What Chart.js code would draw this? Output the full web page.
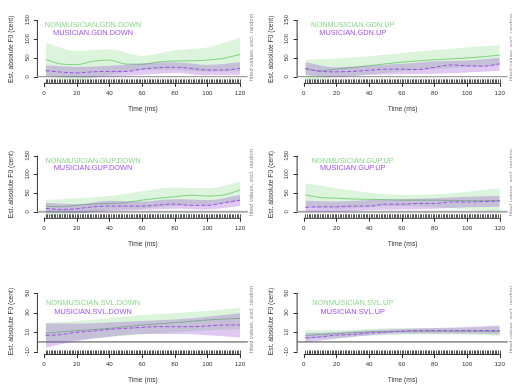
<!DOCTYPE html>
<html>
<head>
<meta charset="utf-8">
<script src="https://cdn.jsdelivr.net/npm/chart.js@4.4.1/dist/chart.umd.min.js"></script>
<style>
  html, body { margin: 0; padding: 0; background: #fff; width: 512px; height: 388px; overflow: hidden; }
  .panel { position: absolute; width: 256px; height: 136px; }
</style>
</head>
<body>
<div class="panel" style="left:0;top:0"><canvas id="p0" width="256" height="136"></canvas></div>
<div class="panel" style="left:256px;top:0"><canvas id="p1" width="256" height="136"></canvas></div>
<div class="panel" style="left:0;top:136px"><canvas id="p2" width="256" height="136"></canvas></div>
<div class="panel" style="left:256px;top:136px"><canvas id="p3" width="256" height="136"></canvas></div>
<div class="panel" style="left:0;top:272px"><canvas id="p4" width="256" height="136"></canvas></div>
<div class="panel" style="left:256px;top:272px"><canvas id="p5" width="256" height="136"></canvas></div>
<script>
// time points (ms)
const LINE_T = [1, 10, 20, 30, 40, 50, 60, 70, 80, 90, 100, 110, 120];
const BAND_T = [1, 20, 40, 60, 80, 100, 120];
const X_TICKS = [0, 20, 40, 60, 80, 100, 120];
const Y_TICKS_F0 = [0, 50, 100, 150];
const Y_TICKS_SVL = [-10, 10, 30, 50];
const RUG_T = Array.from({ length: 120 }, (_, i) => i + 1); // one sample per ms

// GDN.DOWN
const gdnDownNonFit = [46, 34, 32, 41, 44, 33.6, 33, 39, 41.5, 42, 44, 48.6, 59];
const gdnDownNonHi = [90, 68, 72.5, 55, 70, 77, 103];
const gdnDownNonLo = [0, -9, 4.5, 17.7, 17.7, 13, 15];
const gdnDownMusFit = [16, 12.4, 10, 13, 14, 14, 20, 24, 25, 22, 17.7, 17.7, 22];
const gdnDownMusHi = [30, 26, 29, 35, 38, 31, 38];
const gdnDownMusLo = [2, -2, 0, 5, 10, 4, 5];
// GDN.UP
const gdnUpNonFit = [20, 15.6, 20, 24.5, 29, 34, 38.5, 42, 45, 47, 49.5, 53, 57];
const gdnUpNonHi = [45, 48, 54, 63, 70.6, 77, 84];
const gdnUpNonLo = [-12, -1, 6, 14, 20, 25, 29];
const gdnUpMusFit = [22, 14, 13, 14, 17, 20, 20, 19, 25, 31, 29, 28, 34];
const gdnUpMusHi = [38.5, 25, 29, 34, 41, 43, 50];
const gdnUpMusLo = [4.6, -1, 4.6, 6.4, 8, 11, 15.6];
// GUP.DOWN
const gupDownNonFit = [15, 13, 17, 20.5, 22, 24, 31, 36, 40, 44, 42, 45, 58];
const gupDownNonHi = [31, 36, 42, 55, 65, 62.5, 80];
const gupDownNonLo = [-12, -6, 4.5, 8, 15, 18, 27];
const gupDownMusFit = [9, 6, 8, 13, 15, 15, 15, 18, 20.5, 17, 17, 24, 31];
const gupDownMusHi = [24, 20, 29.5, 27, 33, 31, 45];
const gupDownMusLo = [-3, -4, 2, 4.5, 8, 6, 15];
// GUP.UP
const gupUpNonFit = [45, 38, 36, 34, 33, 32, 31, 31, 31, 30, 29.5, 29.5, 29.5];
const gupUpNonHi = [76, 62.5, 51, 45, 47, 53.6, 62.5];
const gupUpNonLo = [13, 7, 11.6, 15, 11.6, 6, 0];
const gupUpMusFit = [11.6, 13, 13, 15, 15, 20, 20, 22, 22, 26, 26, 27, 28.6];
const gupUpMusHi = [29.5, 27, 31, 33, 36, 40, 42];
const gupUpMusLo = [0, 0, 4.5, 6, 8, 11.6, 13];
// SVL.DOWN
const svlDownNonFit = [8.9, 10.2, 11.6, 12.8, 14, 15.7, 17.4, 18.6, 19.8, 21.2, 22.6, 23.5, 24.3];
const svlDownNonHi = [19.8, 21.5, 24.3, 27.7, 29.4, 32, 35.3];
const svlDownNonLo = [-2, 2, 5, 8, 10, 12, 13];
const svlDownMusFit = [6.8, 7.5, 9.9, 11.2, 13, 14, 15, 15.7, 15.7, 15.7, 16.4, 17.4, 17.4];
const svlDownMusHi = [19, 19, 20, 21.5, 23, 26, 29.4];
const svlDownMusLo = [-6, 1, 5.4, 8.2, 8.2, 7, 4.7];
// SVL.UP
const svlUpNonFit = [6.6, 7.6, 8.6, 9.5, 10.3, 10.7, 11, 11, 11, 11, 11, 10.8, 10.7];
const svlUpNonHi = [12, 12, 13.4, 14.4, 14.4, 14.7, 16];
const svlUpNonLo = [2.5, 4.2, 6.6, 7.3, 7.6, 7.3, 6];
const svlUpMusFit = [4.2, 5.2, 7, 7.6, 9.3, 10, 11, 11.7, 11.7, 11.7, 11.7, 11.7, 11.7];
const svlUpMusHi = [9.3, 10, 12, 13.4, 14.4, 15.4, 16.8];
const svlUpMusLo = [-0.2, 3.2, 6.6, 8.6, 8.6, 8.6, 7.6];

const GREEN_LINE = '#80cf80', GREEN_BAND = 'rgba(60,190,60,0.18)', GREEN_TEXT = '#8ad88a';
const PURPLE_LINE = '#9a4fe0', PURPLE_BAND = 'rgba(140,60,210,0.28)', PURPLE_TEXT = '#a052e8';
const FONT = '"Liberation Sans", Arial, sans-serif';

const panels = [
  { id: 'p0', col: 0, row: 0, cond: 'GDN.DOWN', non: [gdnDownNonFit, gdnDownNonLo, gdnDownNonHi], mus: [gdnDownMusFit, gdnDownMusLo, gdnDownMusHi] },
  { id: 'p1', col: 1, row: 0, cond: 'GDN.UP', non: [gdnUpNonFit, gdnUpNonLo, gdnUpNonHi], mus: [gdnUpMusFit, gdnUpMusLo, gdnUpMusHi] },
  { id: 'p2', col: 0, row: 1, cond: 'GUP.DOWN', non: [gupDownNonFit, gupDownNonLo, gupDownNonHi], mus: [gupDownMusFit, gupDownMusLo, gupDownMusHi] },
  { id: 'p3', col: 1, row: 1, cond: 'GUP.UP', non: [gupUpNonFit, gupUpNonLo, gupUpNonHi], mus: [gupUpMusFit, gupUpMusLo, gupUpMusHi] },
  { id: 'p4', col: 0, row: 2, cond: 'SVL.DOWN', non: [svlDownNonFit, svlDownNonLo, svlDownNonHi], mus: [svlDownMusFit, svlDownMusLo, svlDownMusHi] },
  { id: 'p5', col: 1, row: 2, cond: 'SVL.UP', non: [svlUpNonFit, svlUpNonLo, svlUpNonHi], mus: [svlUpMusFit, svlUpMusLo, svlUpMusHi] }
];

// plot region placement (R-like margins)
const colPad = [{ left: 37.9, right: 8.2 }, { left: 41.6, right: 4.5 }];
const rowPad = [{ top: 17.6, bottom: 53.1 }, { top: 17.3, bottom: 54.2 }, { top: 19, bottom: 54 }];
const rowY = [
  { min: -16.4, max: 156.4, ticks: Y_TICKS_F0, legend: [137, 117], zero: '#888', zeroW: 1 },
  { min: -16.4, max: 156.4, ticks: Y_TICKS_F0, legend: [137, 117], zero: '#aaa', zeroW: 2 },
  { min: -12.4, max: 52.4, ticks: Y_TICKS_SVL, legend: [39.7, 31], zero: '#444', zeroW: 1 }
];

const pts = (xs, ys) => xs.map((x, i) => ({ x, y: ys[i] }));

function rot(ctx, text, x, y, a) {
  ctx.save(); ctx.translate(x, y); ctx.rotate(a); ctx.fillText(text, 0, 0); ctx.restore();
}

const rAxes = {
  id: 'rAxes',
  afterDraw(chart) {
    const { ctx, chartArea: ca, scales: { x, y } } = chart;
    const p = chart.options.plugins.rAxes;
    ctx.save();
    // rug
    ctx.strokeStyle = '#555'; ctx.lineWidth = 1;
    ctx.beginPath();
    RUG_T.forEach(t => { const px = Math.round(x.getPixelForValue(t)) + 0.5; ctx.moveTo(px, ca.bottom); ctx.lineTo(px, ca.bottom - 3.5); });
    ctx.stroke();
    // x axis
    ctx.strokeStyle = '#333'; ctx.lineWidth = 1;
    ctx.beginPath();
    ctx.moveTo(x.getPixelForValue(X_TICKS[0]), ca.bottom + 0.5);
    ctx.lineTo(x.getPixelForValue(X_TICKS[X_TICKS.length - 1]), ca.bottom + 0.5);
    X_TICKS.forEach(t => { const px = Math.round(x.getPixelForValue(t)) + 0.5; ctx.moveTo(px, ca.bottom); ctx.lineTo(px, ca.bottom + 4); });
    // y axis
    const yt = p.yTicks;
    ctx.moveTo(ca.left - 0.5, y.getPixelForValue(yt[0]));
    ctx.lineTo(ca.left - 0.5, y.getPixelForValue(yt[yt.length - 1]));
    yt.forEach(v => { const py = Math.round(y.getPixelForValue(v)) + 0.5; ctx.moveTo(ca.left, py); ctx.lineTo(ca.left - 4, py); });
    ctx.stroke();
    // tick labels
    ctx.fillStyle = '#333'; ctx.font = '6.2px ' + FONT;
    ctx.textAlign = 'center'; ctx.textBaseline = 'middle';
    X_TICKS.forEach(t => ctx.fillText(String(t), x.getPixelForValue(t), ca.bottom + 10));
    yt.forEach(v => rot(ctx, String(v), ca.left - 11, y.getPixelForValue(v), -Math.PI / 2));
    // axis titles
    ctx.font = '6.7px ' + FONT;
    ctx.fillText('Time (ms)', (ca.left + ca.right) / 2, ca.bottom + 26.4);
    rot(ctx, 'Est. absolute F0 (cent)', ca.left - 26.3, (ca.top + ca.bottom) / 2 - 1, -Math.PI / 2);
    ctx.fillStyle = '#8a8a8a'; ctx.font = '5.8px ' + FONT;
    rot(ctx, 'fitted values, excl. random', ca.right + 3.8, (ca.top + ca.bottom) / 2 - 3, -Math.PI / 2);
    // legend text
    ctx.font = '7.4px ' + FONT;
    ctx.fillStyle = GREEN_TEXT;
    ctx.fillText('NONMUSICIAN.' + p.cond, x.getPixelForValue(30), y.getPixelForValue(p.legend[0]));
    ctx.fillStyle = PURPLE_TEXT;
    ctx.fillText('MUSICIAN.' + p.cond, x.getPixelForValue(30), y.getPixelForValue(p.legend[1]));
    ctx.restore();
  }
};

panels.forEach(pn => {
  const ry = rowY[pn.row];
  new Chart(document.getElementById(pn.id), {
    type: 'line',
    data: {
      datasets: [
        { data: pts(BAND_T, pn.non[1]), borderWidth: 0, pointRadius: 0, fill: false, order: 6 },
        { data: pts(BAND_T, pn.non[2]), borderWidth: 0, pointRadius: 0, fill: 0, backgroundColor: GREEN_BAND, order: 6 },
        { data: pts(LINE_T, pn.non[0]), borderColor: GREEN_LINE, borderWidth: 1, pointRadius: 0, fill: false, order: 5 },
        { data: pts(BAND_T, pn.mus[1]), borderWidth: 0, pointRadius: 0, fill: false, order: 4 },
        { data: pts(BAND_T, pn.mus[2]), borderWidth: 0, pointRadius: 0, fill: 3, backgroundColor: PURPLE_BAND, order: 4 },
        { data: pts(LINE_T, pn.mus[0]), borderColor: PURPLE_LINE, borderWidth: 1, borderDash: [4, 2], pointRadius: 0, fill: false, order: 3 },
        { data: [{ x: -10, y: 0 }, { x: 130, y: 0 }], borderColor: ry.zero, borderWidth: ry.zeroW, pointRadius: 0, fill: false, tension: 0, order: 10 }
      ]
    },
    options: {
      responsive: false, animation: false, events: [],
      layout: { padding: { left: colPad[pn.col].left, right: colPad[pn.col].right, top: rowPad[pn.row].top, bottom: rowPad[pn.row].bottom } },
      elements: { line: { cubicInterpolationMode: 'monotone' } },
      scales: {
        x: { type: 'linear', min: -3.76, max: 124.76, display: false },
        y: { min: ry.min, max: ry.max, display: false }
      },
      plugins: {
        legend: { display: false }, tooltip: { enabled: false },
        rAxes: { cond: pn.cond, yTicks: ry.ticks, legend: ry.legend }
      }
    },
    plugins: [rAxes]
  });
});
</script>
</body>
</html>
